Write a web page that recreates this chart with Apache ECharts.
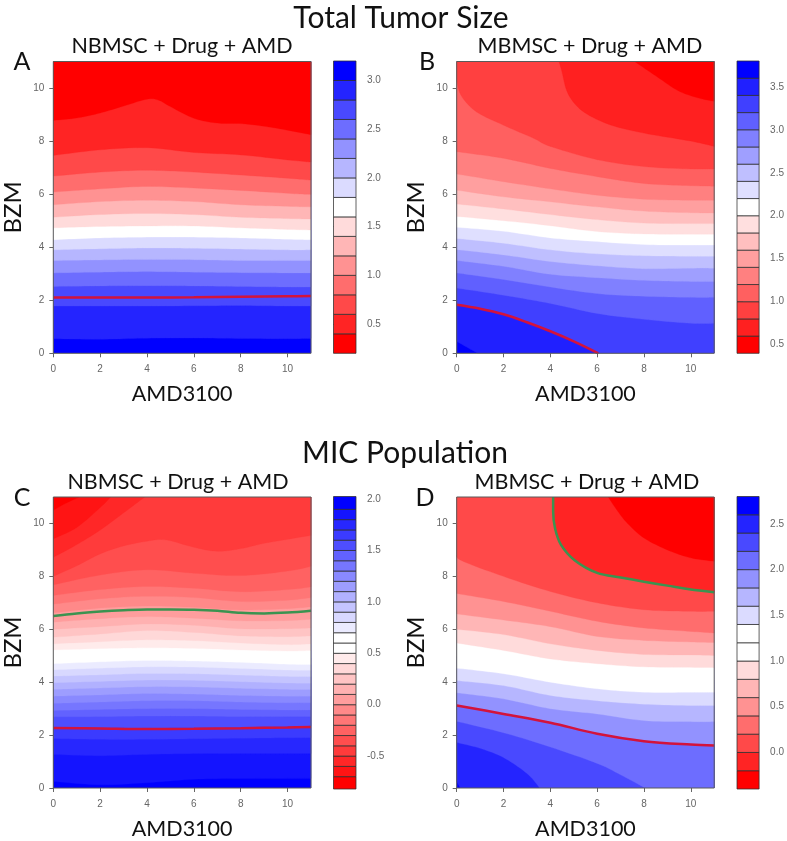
<!DOCTYPE html>
<html>
<head>
<meta charset="utf-8">
<style>html,body{margin:0;padding:0;background:#fff}#c{width:787px;height:841px}</style>
<script src="https://cdn.jsdelivr.net/npm/echarts@6/dist/echarts.min.js"></script>
</head>
<body>
<div id="c"></div>
<script>
const xTicks = [0, 2, 4, 6, 8, 10];
const yTicks = [0, 2, 4, 6, 8, 10];
const stations = [0, 2, 4, 6, 8, 10, 11];
const P = ys => ys.map((y, i) => [stations[i], y]);

// colour-bar breaks (value of each band edge)
const breaksA = [0.2,0.4,0.6,0.8,1.0,1.2,1.4,1.6,1.8,2.0,2.2,2.4,2.6,2.8,3.0,3.2];
const breaksB = [0.4,0.6,0.8,1.0,1.2,1.4,1.6,1.8,2.0,2.2,2.4,2.6,2.8,3.0,3.2,3.4,3.6,3.8];
const breaksC = [-0.82,-0.7,-0.6,-0.5,-0.4,-0.3,-0.2,-0.1,0,0.1,0.2,0.3,0.4,0.5,0.6,0.7,0.8,0.9,1.0,1.1,1.2,1.3,1.4,1.5,1.6,1.7,1.8,1.9,2.025];
const breaksD = [-0.4,-0.2,0,0.2,0.4,0.6,0.8,1.0,1.2,1.4,1.6,1.8,2.0,2.2,2.4,2.6,2.8];
const barTicksA = [0.5,1.0,1.5,2.0,2.5,3.0];
const barTicksB = [0.5,1.0,1.5,2.0,2.5,3.0,3.5];
const barTicksC = [-0.5,0,0.5,1.0,1.5,2.0];
const barTicksD = [0,0.5,1.0,1.5,2.0,2.5];

// contour boundaries, bottom (blue) to top (red)
const contoursA = [
  P([.55,.53,.57,.58,.56,.55,.56]),
  P([1.78,1.78,1.78,1.79,1.8,1.78,1.78]),
  P([2.52,2.54,2.55,2.54,2.52,2.5,2.5]),
  P([3.03,3.06,3.08,3.06,3.04,3.03,3.03]),
  P([3.5,3.52,3.54,3.53,3.5,3.5,3.5]),
  P([3.9,3.94,3.97,3.96,3.93,3.9,3.9]),
  P([4.28,4.35,4.38,4.38,4.35,4.3,4.28]),
  P([4.73,4.78,4.8,4.8,4.73,4.67,4.65]),
  P([5.13,5.23,5.27,5.23,5.13,5.08,5.06]),
  P([5.6,5.72,5.77,5.72,5.6,5.54,5.52]),
  P([6.08,6.2,6.29,6.23,6.14,6.03,5.99]),
  P([6.68,6.83,6.9,6.83,6.72,6.6,6.53]),
  P([7.46,7.67,7.75,7.57,7.48,7.29,7.21]),
  [[0,8.78],[1,8.87],[2,9.06],[3,9.32],[4,9.58],[4.5,9.54],[5,9.3],[6,8.86],[7,8.68],[8,8.66],[9,8.56],[10,8.41],[11,8.24]]
];
const contoursB = [
  [[0,.45],[.45,.22],[.9,0]],
  [[0,1.83],[1,1.68],[2,1.47],[3,1.17],[4,.83],[5,.45],[6.05,0]],
  P([2.46,2.19,1.88,1.5,1.28,1.13,1.13]),
  P([3.03,2.78,2.5,2.25,2.15,2.11,2.11]),
  P([3.5,3.28,2.98,2.85,2.75,2.71,2.71]),
  P([3.91,3.71,3.46,3.3,3.19,3.21,3.21]),
  P([4.33,4.15,3.9,3.75,3.68,3.66,3.66]),
  P([4.75,4.6,4.35,4.21,4.1,4.08,4.08]),
  P([5.16,5.0,4.81,4.59,4.5,4.49,4.49]),
  P([5.63,5.44,5.23,5.04,4.91,4.89,4.89]),
  P([6.15,5.9,5.71,5.52,5.36,5.3,5.29]),
  P([6.76,6.47,6.2,5.96,5.81,5.77,5.77]),
  P([7.6,7.35,6.97,6.66,6.4,6.32,6.3]),
  [[0,10.27],[.2,9.7],[.85,9.1],[2,8.6],[3.3,8.1],[4,7.8],[6,7.3],[8,7.04],[10,6.95],[11,6.95]],
  [[4.37,11],[4.5,10.6],[4.7,9.9],[5.05,9.4],[5.6,9.0],[6.6,8.6],[8,8.3],[10,8.0],[11,7.8]],
  [[7.6,11],[8.6,10.4],[9.46,9.9],[10.3,9.63],[11,9.5]]
];
const contoursC = [
  P([.25,.12,.2,.33,.36,.36,.36]),
  P([1.27,1.22,1.27,1.3,1.3,1.3,1.3]),
  P([1.87,1.84,1.84,1.86,1.88,1.9,1.9]),
  P([2.3,2.28,2.27,2.28,2.3,2.33,2.35]),
  P([2.69,2.7,2.72,2.72,2.7,2.7,2.7]),
  P([2.93,2.97,3.0,3.0,2.97,2.95,2.95]),
  P([3.2,3.25,3.3,3.3,3.25,3.22,3.22]),
  P([3.47,3.52,3.57,3.55,3.5,3.47,3.47]),
  P([3.73,3.78,3.83,3.82,3.77,3.73,3.72]),
  P([3.98,4.03,4.08,4.07,4.02,3.97,3.96]),
  P([4.23,4.28,4.33,4.32,4.27,4.22,4.21]),
  P([4.47,4.53,4.58,4.57,4.52,4.46,4.45]),
  P([4.7,4.77,4.82,4.8,4.75,4.68,4.67]),
  P([4.95,5.0,5.05,5.03,4.97,4.92,4.92]),
  P([5.22,5.27,5.3,5.28,5.22,5.18,5.2]),
  P([5.45,5.53,5.6,5.57,5.48,5.42,5.45]),
  P([5.7,5.82,5.95,5.88,5.75,5.72,5.75]),
  P([6.0,6.1,6.2,6.15,6.02,6.02,6.05]),
  P([6.27,6.4,6.48,6.42,6.32,6.33,6.38]),
  P([6.62,6.8,6.88,6.83,6.73,6.78,6.85]),
  P([6.95,7.15,7.25,7.2,7.05,7.1,7.2]),
  P([7.28,7.5,7.62,7.55,7.42,7.5,7.6]),
  P([7.68,8.05,8.25,8.12,8.03,8.2,8.38]),
  [[0,8.0],[1,8.4],[2,8.85],[3,9.15],[4,9.33],[4.8,9.38],[6,9.1],[7,8.95],[8,9.05],[9,9.25],[10,9.4],[11,9.55]],
  [[0,8.72],[1,9.2],[2,9.75],[3,10.4],[3.9,11]],
  [[0,9.42],[1,9.85],[2,10.6],[2.45,11]],
  [[0,10.5],[.5,10.75],[1.1,11]]
];
const contoursD = [
  [[0,.25],[.15,0]],
  [[0,1.72],[1,1.5],[2,1.15],[3,.55],[3.55,0]],
  [[0,2.52],[2,2.09],[4,1.55],[6,.93],[7,.5],[8.05,0]],
  P([3.12,2.8,2.47,2.05,1.77,1.64,1.61]),
  P([3.6,3.37,3.0,2.8,2.55,2.51,2.51]),
  P([4.06,3.87,3.5,3.3,3.17,3.12,3.12]),
  P([4.53,4.32,4.0,3.75,3.62,3.62,3.62]),
  P([5.0,4.76,4.44,4.22,4.1,4.08,4.08]),
  P([5.48,5.2,4.88,4.7,4.58,4.56,4.55]),
  P([6.0,5.8,5.45,5.2,5.05,5.03,5.01]),
  P([6.58,6.35,6.1,5.73,5.58,5.52,5.5]),
  P([7.35,7.05,6.68,6.3,6.05,5.92,5.86]),
  [[0,8.85],[.2,8.6],[2,8.0],[4,7.43],[6,7.0],[8,6.74],[10,6.68],[11,6.68]],
  [[4.12,11],[4.12,10.45],[4.2,9.82],[4.45,9.2],[5.05,8.6],[6,8.13],[7,7.96],[8,7.8],[9,7.65],[10,7.5],[11,7.4]],
  [[6.47,11],[6.85,10.5],[7.3,10],[8,9.45],[9,9],[10,8.7],[11,8.57]]
];

// highlighted threshold curves
const redA = P([2.1,2.1,2.1,2.11,2.13,2.15,2.16]);
const redB = contoursB[1];
const redC = P([2.27,2.25,2.23,2.24,2.26,2.29,2.31]);
const greenC = [[0,6.5],[1,6.6],[2,6.67],[3,6.72],[4,6.75],[5,6.75],[6,6.74],[7,6.7],[8,6.62],[9,6.6],[10,6.63],[11,6.7]];
const redD = contoursD[3];
const greenD = contoursD[13];

const mainTitles = ['Total Tumor Size', 'MIC Population'];
const panelTitles = ['NBMSC + Drug + AMD', 'MBMSC + Drug + AMD', 'NBMSC + Drug + AMD', 'MBMSC + Drug + AMD'];
const panelLetters = ['A', 'B', 'C', 'D'];
const xName = 'AMD3100', yName = 'BZM';

const FONT = 'Lato, "Open Sans", sans-serif';
const TICKFONT = '"Liberation Sans", Arial, sans-serif';
const RED = '#d3133c', GREEN = '#3b9350';

const layout = [
  {l:53.3, t:61.5, w:257.7, h:291.8, bl:333.5, bw:22.5, tx:182, ty:45,  lx:22,  ly:61},
  {l:456.7,t:61.5, w:257.5, h:291.8, bl:737,   bw:22.4, tx:590, ty:45,  lx:427, ly:61},
  {l:53.3, t:497,  w:257.7, h:292,   bl:333.5, bw:22.5, tx:178, ty:481, lx:22,  ly:497},
  {l:456.7,t:497,  w:257.5, h:292,   bl:737,   bw:22.4, tx:587, ty:481, lx:425, ly:497}
];
const panels = [
  {contours:contoursA, breaks:breaksA, ticks:barTicksA, lines:[[redA,RED]]},
  {contours:contoursB, breaks:breaksB, ticks:barTicksB, lines:[[redB,RED]]},
  {contours:contoursC, breaks:breaksC, ticks:barTicksC, lines:[[redC,RED],[greenC,GREEN]]},
  {contours:contoursD, breaks:breaksD, ticks:barTicksD, lines:[[redD,RED],[greenD,GREEN]]}
];

// red-white-blue ramp; an even band count has two white middle bands
function palette(n){
  const out = [], half = Math.ceil(n / 2);
  for (let i = 0; i < n; i++){
    const f = Math.round(255 * (i < half ? i / (half - 1) : (n - 1 - i) / (half - 1)));
    out.push(i < half ? 'rgb(255,' + f + ',' + f + ')' : 'rgb(' + f + ',' + f + ',255)');
  }
  return out;
}
function spline(p){
  const out = [], N = 10;
  for (let i = 0; i < p.length - 1; i++){
    const a = p[Math.max(i-1,0)], b = p[i], c = p[i+1], d = p[Math.min(i+2,p.length-1)];
    for (let k = 0; k < N; k++){
      const t = k/N, t2 = t*t, t3 = t2*t;
      out.push([0,1].map(j => 0.5*(2*b[j] + (c[j]-a[j])*t + (2*a[j]-5*b[j]+4*c[j]-d[j])*t2 + (3*b[j]-a[j]-3*c[j]+d[j])*t3)));
    }
  }
  out.push(p[p.length-1]);
  return out;
}

const grid = [], xAxis = [], yAxis = [], series = [], title = [];
mainTitles.forEach((s, i) => title.push({text:s, left:i ? 405 : 401, top:i ? 438 : 3, textAlign:'center', padding:0,
  textStyle:{fontFamily:FONT, fontSize:30, fontWeight:'normal', color:'#111'}}));

panels.forEach((pn, i) => {
  const g = layout[i], n = pn.breaks.length - 1, cols = palette(n);
  title.push({text:panelTitles[i], left:g.tx, top:g.ty-10, textAlign:'center', padding:0,
    textStyle:{fontFamily:FONT, fontSize:21.5, fontWeight:'normal', color:'#111'}});
  title.push({text:panelLetters[i], left:g.lx, top:g.ly-12, textAlign:'center', padding:0,
    textStyle:{fontFamily:FONT, fontSize:25, fontWeight:'normal', color:'#111'}});

  const gi = grid.length;
  grid.push({left:g.l, top:g.t, width:g.w, height:g.h, show:false});
  const axisCommon = {
    type:'value', min:0, max:11, interval:2, gridIndex:gi, splitLine:{show:false},
    axisLine:{show:false}, nameLocation:'middle'
  };
  xAxis.push(Object.assign({}, axisCommon, {position:'bottom', name:xName, nameGap:30,
    nameTextStyle:{fontFamily:FONT, fontSize:21.5, color:'#111'},
    axisLabel:{fontFamily:TICKFONT, fontSize:10, color:'#666', margin:11, customValues:xTicks},
    axisTick:{show:true, length:4, lineStyle:{color:'#666'}, customValues:xTicks}}));
  yAxis.push(Object.assign({}, axisCommon, {position:'left', name:yName, nameGap:28,
    nameTextStyle:{fontFamily:FONT, fontSize:24, color:'#111'},
    axisLabel:{fontFamily:TICKFONT, fontSize:10, color:'#666', margin:9, customValues:yTicks},
    axisTick:{show:true, length:4, lineStyle:{color:'#666'}, customValues:yTicks}}));

  // filled contour bands painted bottom-up
  series.push({
    type:'custom', xAxisIndex:gi, yAxisIndex:gi, clip:true, silent:true, z:2,
    data:[null].concat(pn.contours).map((_, k) => [k]),
    encode:{x:-1, y:-1},
    renderItem:(params, api) => {
      const k = params.dataIndex, fill = cols[n-1-k];
      let pts;
      if (k === 0) {
        pts = [[0,0],[11,0],[11,11],[0,11]].map(q => api.coord(q));
      } else {
        const c = pn.contours[k-1], a = c[0], b = c[c.length-1];
        pts = spline(c.map(q => api.coord(q)));
        if (b[1] === 0) { pts.push(api.coord([11,0]), api.coord([11,11])); }
        else if (b[0] === 11) { pts.push(api.coord([11,11])); }
        if (a[0] === 0) pts.push(api.coord([0,11]));
      }
      return {type:'polygon', shape:{points:pts}, style:{fill:fill, stroke:fill, lineWidth:0.3}};
    }
  });
  pn.lines.forEach(l => series.push({
    type:'line', xAxisIndex:gi, yAxisIndex:gi, data:l[0], smooth:0.35, showSymbol:false, symbol:'none',
    silent:true, z:4, lineStyle:{color:l[1], width:2.5}
  }));
  // plot frame
  series.push({
    type:'custom', xAxisIndex:gi, yAxisIndex:gi, clip:false, silent:true, z:5, data:[[0]], encode:{x:-1,y:-1},
    renderItem:(params, api) => {
      const a = api.coord([0,11]), b = api.coord([11,0]);
      return {type:'rect', shape:{x:a[0], y:a[1], width:b[0]-a[0], height:b[1]-a[1]},
        style:{fill:'none', stroke:'#5a5a5a', lineWidth:1}};
    }
  });

  // colour bar
  const bi = grid.length;
  grid.push({left:g.bl, top:g.t-.5, width:g.bw, height:g.h+.5, show:false});
  xAxis.push({type:'value', gridIndex:bi, min:0, max:1, show:false});
  yAxis.push({type:'value', gridIndex:bi, position:'right', min:pn.breaks[0], max:pn.breaks[n],
    splitLine:{show:false}, axisLine:{show:false},
    axisTick:{show:true, length:6, lineStyle:{color:'#666'}, customValues:pn.ticks},
    axisLabel:{fontFamily:TICKFONT, fontSize:10, color:'#666', margin:11, customValues:pn.ticks,
      formatter:v => Number(v).toFixed(1)}});
  series.push({
    type:'custom', xAxisIndex:bi, yAxisIndex:bi, clip:false, silent:true, z:2,
    data:pn.breaks.slice(0,n).map((b, k) => [k, b, pn.breaks[k+1]]),
    encode:{x:-1, y:[1,2]},
    renderItem:(params, api) => {
      const a = api.coord([0, api.value(2)]), b = api.coord([1, api.value(1)]);
      return {type:'rect', shape:{x:a[0], y:a[1], width:b[0]-a[0], height:b[1]-a[1]},
        style:{fill:cols[params.dataIndex], stroke:'rgba(45,45,45,.75)', lineWidth:1}};
    }
  });
});

const chart = echarts.init(document.getElementById('c'), null, {renderer:'canvas'});
chart.setOption({animation:false, backgroundColor:'#fff', title, grid, xAxis, yAxis, series});
</script>
</body>
</html>
